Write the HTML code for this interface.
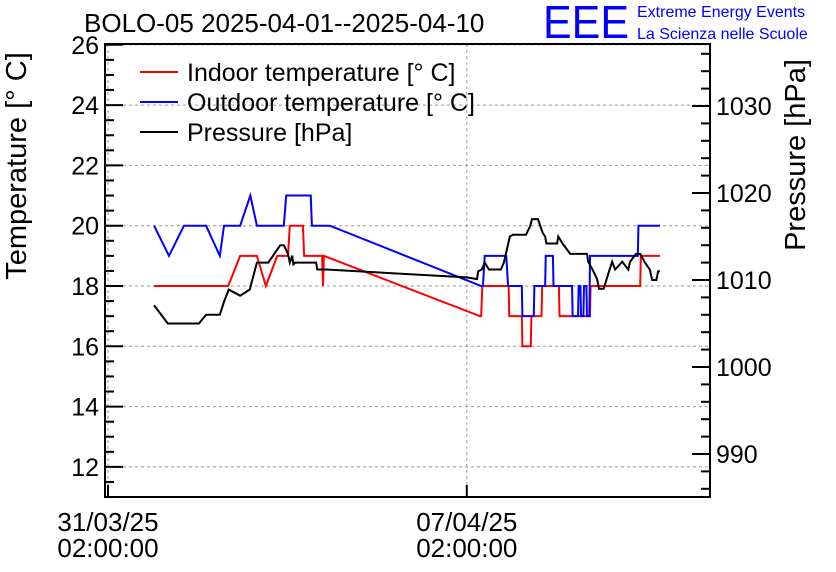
<!DOCTYPE html>
<html><head><meta charset="utf-8"><style>
body{margin:0;background:#fff;}
svg{display:block;font-family:"Liberation Sans",sans-serif;}
</style></head><body>
<svg id="c" width="836" height="572"></svg>
<script>
// days since 31/03/25 02:00
const outdoorT=[[0.77,20],[1.02,19],[1.27,20],[1.64,20],[1.87,19],[1.94,20],[2.21,20],[2.38,21],[2.49,20],[2.94,20],[2.98,21],[3.39,21],[3.41,20],[3.71,20],[6.24,18],[6.27,18],[6.3,19],[6.66,19],[6.69,18],[6.92,18],[6.93,17],[7.12,17],[7.13,18],[7.31,18],[7.32,19],[7.44,19],[7.45,18],[7.76,18],[7.77,17],[7.86,17],[7.87,18],[7.9,18],[7.91,17],[7.95,17],[7.96,18],[8.0,18],[8.01,17],[8.05,17],[8.06,19],[8.86,19],[8.87,20],[9.23,20]];
const indoorT=[[0.77,18],[2.01,18],[2.21,19],[2.49,19],[2.64,18],[2.83,19],[3.01,19],[3.04,20],[3.26,20],[3.28,19],[3.58,19],[3.595,18],[3.61,19],[3.61,19],[6.22,17],[6.24,17],[6.26,18],[6.7,18],[6.71,17],[6.92,17],[6.93,16],[7.07,16],[7.08,17],[7.25,17],[7.26,18],[7.54,18],[7.55,17],[8.06,17],[8.07,18],[8.9,18],[8.91,19],[9.23,19]];
const pressure=[[0.77,1007.1],[1.0,1005],[1.52,1005],[1.64,1006],[1.87,1006],[1.94,1007.5],[2.02,1008.9],[2.21,1008.2],[2.37,1008.9],[2.49,1012],[2.68,1012],[2.88,1014],[2.94,1014],[3.01,1013],[3.04,1012],[3.08,1012.8],[3.1,1011.8],[3.13,1012],[3.48,1012],[3.5,1011.2],[3.65,1011.2],[6.0,1010.3],[6.17,1010.1],[6.19,1011],[6.25,1011.2],[6.3,1012],[6.37,1011.2],[6.57,1011.2],[6.62,1012],[6.72,1015],[6.77,1015.2],[6.99,1015.2],[7.06,1016.2],[7.09,1017],[7.19,1017],[7.24,1016],[7.27,1015.4],[7.31,1015],[7.33,1014.2],[7.51,1014.2],[7.53,1015],[7.6,1014.2],[7.73,1013],[8.01,1013],[8.03,1012.1],[8.11,1011.1],[8.18,1010.1],[8.21,1009],[8.29,1009],[8.36,1010.6],[8.43,1012.1],[8.48,1011.2],[8.6,1012.1],[8.7,1011.2],[8.73,1012.1],[8.83,1013],[8.9,1013],[8.98,1012],[9.06,1011.2],[9.1,1010],[9.17,1010],[9.2,1011],[9.23,1011]];
const tempTicks=[12,14,16,18,20,22,24,26];
const presTicks=[990,1000,1010,1020,1030];
const timeTicks=[0,6];
const timeLabels=[["31/03/25","02:00:00"],["07/04/25","02:00:00"]];

const L=105,R=710,T=44,B=497;
const X=d=>108+d*59.8;
const YT=t=>286-(t-18)*30.15;
const YP=p=>280-(p-1010)*8.7;
const svg=document.getElementById('c');
const NS='http://www.w3.org/2000/svg';
function el(tag,attrs,parent){const e=document.createElementNS(NS,tag);for(const k in attrs)e.setAttribute(k,attrs[k]);(parent||svg).appendChild(e);return e;}
function txt(s,attrs){const e=el('text',attrs);e.textContent=s;return e;}

tempTicks.forEach(t=>{const g=el('line',{x1:L,x2:R,y1:YT(t),y2:YT(t),stroke:'#999','stroke-dasharray':'3,3','stroke-width':1});

});
timeTicks.forEach(d=>{const g=el('line',{x1:X(d),x2:X(d),y1:T,y2:B,stroke:'#999','stroke-dasharray':'3,3','stroke-width':1});

});

function series(data,yf,color,name){
 const p=el('polyline',{points:data.map(d=>X(d[0])+','+yf(d[1])).join(' '),fill:'none',stroke:color,'stroke-width':2});
 
 
}
series(indoorT,YT,'#f00','indoor-temperature-line');
series(outdoorT,YT,'#00f','outdoor-temperature-line');
series(pressure,YP,'#000','pressure-line');

const fr=el('rect',{x:L,y:T,width:R-L,height:B-T,fill:'none',stroke:'#000','stroke-width':2});



for(let t=11;t<=26;t+=0.5){const major=Math.abs(t%2)<1e-6;const tk=el('line',{x1:L,x2:L+(major?18:9),y1:YT(t),y2:YT(t),stroke:'#000','stroke-width':2});

}
tempTicks.forEach(t=>{const e=txt(t,{x:L-6,y:YT(t)+9,'text-anchor':'end','font-size':25});

});
for(let p=986;p<=1036;p+=2){const major=p%10===0;const y=YP(p);if(y<T||y>B)continue;const tk=el('line',{x1:R,x2:R-(major?18:9),y1:y,y2:y,stroke:'#000','stroke-width':2});

}
presTicks.forEach(p=>{const e=txt(p,{x:R+6,y:YP(p)+9,'font-size':25});

});
timeTicks.forEach((d,i)=>{const tk=el('line',{x1:X(d),x2:X(d),y1:B,y2:B-12,stroke:'#000','stroke-width':2});


const a=txt(timeLabels[i][0],{x:X(d),y:531,'text-anchor':'middle','font-size':26});


const b=txt(timeLabels[i][1],{x:X(d),y:557,'text-anchor':'middle','font-size':26});

});
</script>
<svg width="836" height="572" style="position:absolute;left:0;top:0">
 <g font-family="Liberation Sans, sans-serif">
 <text x="84" y="32" font-size="26">BOLO-05 2025-04-01--2025-04-10</text>
 <text x="26" y="166" font-size="29" text-anchor="middle" transform="rotate(-90 26 166)">Temperature [° C]</text>
 <text x="805" y="155" font-size="29" text-anchor="middle" transform="rotate(-90 805 155)">Pressure [hPa]</text>
 <text x="543" y="38" font-size="46" fill="#00f" textLength="86" lengthAdjust="spacingAndGlyphs">EEE</text>
 <text x="637" y="17" font-size="16" fill="#00f">Extreme Energy Events</text>
 <text x="637" y="39" font-size="16" fill="#00f">La Scienza nelle Scuole</text>
 <g>
  <line x1="140" x2="178" y1="72" y2="72" stroke="#f00" stroke-width="2"/>
  <text x="187" y="81" font-size="25">Indoor temperature [° C]</text>
  <line x1="140" x2="178" y1="102" y2="102" stroke="#00f" stroke-width="2"/>
  <text x="187" y="111" font-size="25">Outdoor temperature [° C]</text>
  <line x1="140" x2="178" y1="132" y2="132" stroke="#000" stroke-width="2"/>
  <text x="187" y="141" font-size="25">Pressure [hPa]</text>
 </g>
 </g>
</svg>
</body></html>
